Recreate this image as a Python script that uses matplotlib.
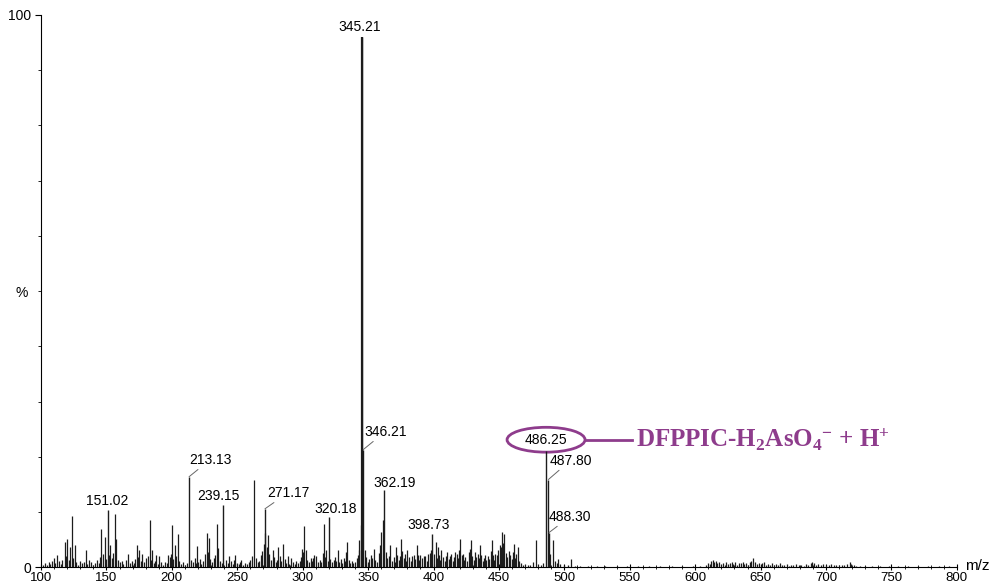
import matplotlib.pyplot as plt
from matplotlib.patches import Ellipse
from matplotlib.ticker import MultipleLocator

plt.rcParams['font.family'] = ['Liberation Sans', 'DejaVu Sans']
plt.rcParams['mathtext.fontset'] = 'custom'
plt.rcParams['mathtext.rm'] = 'Liberation Serif:bold'
plt.rcParams['mathtext.it'] = 'Liberation Serif:bold'
plt.rcParams['mathtext.bf'] = 'Liberation Serif:bold'

# labelled peaks (m/z, relative intensity %)
label_mz = [151.02, 213.13, 239.15, 271.17, 320.18, 345.21, 346.21, 362.19, 398.73, 486.25, 487.80, 488.30]
label_int = [10.3, 16.4, 11.2, 10.6, 9.2, 96.0, 21.3, 14.0, 6.0, 21.1, 15.9, 6.3]

# other visible peaks
major_peaks = [
    (110, 1.6), (112.5, 2.2), (118, 4.5), (120, 5.1), (122, 3.7), (123.7, 9.3), (125.7, 4.0),
    (134, 3.1), (137, 1.3), (146, 7.0), (148.7, 5.5), (153, 4.0), (156.3, 9.7), (157.5, 5.2),
    (166.5, 2.5), (173.3, 4.0), (175, 3.1), (177.5, 2.5), (183, 8.5), (185, 3.1), (188, 2.2),
    (190.5, 2.0), (197.3, 2.2), (200.3, 7.6), (202.3, 4.0), (204.4, 6.0), (219, 3.8),
    (221.5, 1.5), (226.6, 6.2), (228, 5.3), (234.2, 7.9), (235.5, 3.5), (244, 2.0),
    (248.6, 2.2), (253, 1.3), (262.9, 15.8), (271, 6.2), (273.5, 5.8), (277, 3.1),
    (281.3, 3.7), (285, 4.3), (288.5, 2.0), (291, 1.7), (299.6, 3.4), (301.1, 7.5),
    (302.5, 3.1), (309, 2.2), (310.5, 2.0), (316.4, 7.9), (318, 3.1), (326.6, 3.1),
    (333, 2.8), (334, 4.5), (343.3, 5.0), (344.5, 7.6), (347.5, 3.1), (354.4, 3.4),
    (360.2, 6.4), (361, 8.5), (367, 4.0), (371, 3.7), (375, 5.2), (376, 3.0), (380, 3.1),
    (385, 2.2), (387, 4.0), (390, 2.2), (392.5, 2.0), (396, 2.5), (401.6, 4.6),
    (403.5, 3.7), (406, 3.1), (410, 2.8), (413.5, 2.5), (416.5, 2.8), (420, 5.2),
    (422.5, 2.5), (428.3, 4.9), (431.5, 2.8), (435.4, 4.0), (439, 2.2), (444.8, 4.9),
    (447, 2.5), (452.4, 6.4), (454, 6.0), (457.5, 3.0), (461.6, 4.3), (464.5, 3.7),
    (478, 4.9), (491, 4.9), (495, 1.5), (505, 1.5),
]

# baseline noise, 100-250
noise_low = [
    (101.5, 0.4), (103, 0.7), (104.2, 0.5), (105.8, 1.0), (107, 0.6), (108.5, 1.2), (111, 0.8),
    (113.6, 1.1), (115, 0.6), (116.4, 1.4), (119.2, 2.0), (121, 1.3), (124.8, 1.6), (127, 0.9),
    (128.4, 0.5), (130, 1.2), (131.5, 0.7), (132.8, 0.9), (135.5, 0.6), (138.4, 1.0),
    (140, 0.5), (141.2, 0.8), (142.7, 1.3), (144, 0.7), (145.2, 1.8), (147.5, 2.4),
    (150, 1.5), (152.2, 2.2), (154.4, 1.7), (155.2, 2.6), (158.6, 1.4), (160, 0.9),
    (161.5, 1.1), (163, 0.6), (164.6, 1.3), (168, 0.8), (169.4, 1.2), (170.8, 0.7),
    (172, 1.5), (174.2, 1.9), (176.3, 1.1), (178.8, 0.9), (180, 1.6), (181.6, 2.0),
    (184.1, 1.4), (186.4, 0.8), (187.2, 1.1), (189.3, 0.6), (191.8, 0.9), (193, 0.5),
    (194.5, 1.0), (196, 0.7), (198.6, 1.8), (199.4, 2.4), (201.2, 1.5), (203.3, 2.0),
    (205.6, 1.1), (207, 0.6), (208.4, 0.9), (210, 0.5), (211.5, 0.8), (214.6, 1.3),
    (216, 0.9), (217.4, 1.6), (218.2, 0.7), (220.3, 1.0), (222.6, 0.6), (223.8, 1.2),
    (225.2, 2.4), (227.4, 2.8), (229.5, 1.5), (230.8, 0.9), (232, 1.7), (233.2, 2.3),
    (236.8, 1.2), (238, 0.8), (241.3, 1.4), (242.6, 0.7), (245.2, 1.1), (246.5, 0.6),
    (247.6, 1.3), (249.8, 0.8),
]

# baseline noise, 250-400
noise_mid = [
    (251.2, 0.6), (252.2, 0.9), (254.5, 0.5), (256, 0.8), (257.4, 0.6), (258.8, 1.0),
    (260, 1.3), (261.4, 2.0), (264.2, 1.6), (265.6, 0.9), (266.8, 1.2), (268, 2.2),
    (269.2, 3.0), (270.2, 4.2), (272.4, 3.6), (274.6, 2.4), (275.8, 1.3), (278.4, 1.8),
    (279.6, 1.0), (280.5, 1.4), (282.4, 2.0), (283.6, 1.2), (286.2, 1.5), (287.4, 0.8),
    (289.6, 0.6), (292.4, 0.9), (293.8, 0.6), (295, 1.1), (296.4, 0.7), (297.8, 1.2),
    (298.6, 1.9), (300.4, 2.8), (303.6, 1.4), (304.8, 0.9), (306, 1.6), (307.2, 1.1),
    (308.2, 1.7), (311.8, 0.9), (313, 1.4), (314.2, 1.0), (315.4, 2.6), (317.2, 1.8),
    (319, 1.2), (321, 1.5), (322.4, 0.9), (323.6, 1.3), (324.8, 1.9), (325.6, 1.2),
    (327.8, 1.0), (329, 1.5), (330.2, 0.8), (331.4, 1.7), (332.2, 1.1), (335.2, 1.3),
    (336.4, 0.8), (337.6, 1.2), (338.8, 0.7), (340, 1.0), (341.2, 1.6), (342.2, 2.3),
    (343.2, 3.2), (348.4, 1.8), (349.6, 1.0), (350.8, 1.5), (352, 2.2), (353.2, 1.6),
    (355.6, 1.4), (356.8, 0.9), (358, 2.6), (359.2, 4.0), (363.4, 2.8), (364.6, 1.6),
    (365.8, 2.1), (368.2, 1.2), (369.4, 1.8), (370.2, 1.0), (372.4, 2.3), (373.6, 1.4),
    (374.4, 2.0), (377.2, 1.6), (378.4, 2.4), (379.2, 1.1), (381.4, 1.9), (382.6, 1.2),
    (383.8, 2.0), (386.2, 1.5), (388.4, 2.2), (389.2, 1.3), (391.4, 1.7), (393.6, 2.0),
    (394.8, 1.2), (397.2, 2.6), (398, 3.2),
]

# baseline noise, 400-610
noise_high = [
    (400.4, 2.4), (402.6, 1.6), (404.4, 2.2), (405.2, 1.3), (407.4, 1.8), (408.6, 1.1),
    (409.4, 2.0), (411.6, 1.5), (412.6, 2.1), (414.6, 1.2), (415.6, 1.9), (417.6, 2.4),
    (418.8, 1.6), (419.4, 3.1), (421.4, 2.2), (423.6, 1.4), (424.4, 1.9), (425.6, 1.1),
    (426.8, 2.8), (427.6, 3.4), (429.4, 2.0), (430.6, 1.3), (432.6, 1.8), (433.8, 2.5),
    (434.6, 1.6), (436.4, 2.2), (437.6, 1.2), (438.4, 1.7), (440.2, 1.3), (441.4, 2.0),
    (442.4, 1.5), (443.6, 3.0), (445.6, 2.2), (446.4, 1.4), (448.2, 2.3), (449.4, 3.2),
    (450.6, 4.1), (451.4, 3.6), (453.2, 4.4), (455.2, 2.6), (456.4, 1.8), (458.6, 2.2),
    (459.6, 1.5), (460.4, 2.8), (462.6, 1.6), (463.4, 2.4), (465.6, 1.1), (466.8, 0.7),
    (468.4, 0.5), (470, 0.6), (472, 0.4), (474, 0.5), (476.2, 0.9), (480, 0.6), (482, 0.4),
    (484, 0.7), (489.4, 2.4), (492.6, 1.2), (494, 0.8), (497, 0.6), (500, 0.5),
    (502.6, 0.4), (508, 0.3), (512, 0.3), (518, 0.2), (525, 0.3), (531, 0.2), (540, 0.3),
    (548, 0.2), (556, 0.3), (565, 0.2), (573, 0.2), (582, 0.3), (590, 0.2), (598, 0.3),
    (604, 0.2),
]

# low cluster at high m/z
noise_tail = [
    (608.5, 0.4), (610, 0.8), (611.2, 0.6), (612.4, 1.1), (613.6, 1.4), (614.6, 1.0),
    (615.8, 1.2), (617, 0.7), (618.2, 0.9), (619.6, 0.6), (621, 0.8), (622.4, 0.5),
    (623.6, 0.9), (625, 0.6), (626.4, 0.8), (628, 1.0), (629.2, 0.6), (630.6, 0.9),
    (632, 0.5), (633.4, 0.8), (635, 0.7), (636.2, 1.0), (637.6, 0.6), (639, 0.8),
    (640.4, 0.5), (641.8, 0.9), (643, 1.1), (644.4, 1.7), (645.6, 0.9), (647, 0.6),
    (648.4, 0.8), (650, 0.5), (651.4, 0.7), (652.8, 0.9), (654.2, 0.5), (655.6, 0.6),
    (657, 0.4), (658.6, 0.7), (660, 0.5), (661.6, 0.6), (663.2, 0.4), (665, 0.7),
    (666.6, 0.5), (668.2, 0.4), (670, 0.6), (671.8, 0.3), (673.4, 0.5), (675, 0.4),
    (677, 0.6), (679, 0.4), (681, 0.5), (683, 0.3), (685, 0.6), (686.6, 0.5),
    (688.2, 0.8), (689.6, 1.0), (691, 0.7), (692.6, 0.5), (694.2, 0.6), (696, 0.4),
    (698, 0.6), (700, 0.5), (702, 0.4), (704, 0.6), (706, 0.5), (708, 0.4), (710, 0.5),
    (712, 0.4), (714, 0.5), (716, 0.6), (718, 1.0), (719.4, 0.6), (721, 0.4), (723, 0.3),
    (726, 0.3), (730, 0.2), (735, 0.2), (741, 0.2), (748, 0.2), (755, 0.2), (763, 0.2),
    (770, 0.2), (778, 0.2), (786, 0.2), (794, 0.2),
]

# text offset (px) from the peak top, and whether a leader line is drawn
label_dx = [-1, 21, -5, 23, 7, -2, 22, 11, -3, 0, 22, 21]
label_dy = [2, 10, 2, 9, 1, 3, 11, 0, 2, 0, 12, 9]
label_leader = [False, True, False, True, False, False, True, False, False, False, True, True]

line_col = '#1c1c1c'
purple = '#8e3c8c'

fig = plt.figure(figsize=(9.89, 5.87), dpi=100)
ax = fig.add_axes([0.0415, 0.0335, 0.926, 0.941])

for group in (noise_low, noise_mid, noise_high, noise_tail, major_peaks):
    xs = [p[0] for p in group]
    ys = [p[1] for p in group]
    ax.vlines(xs, 0, ys, colors=line_col, lw=0.9)

ax.vlines(label_mz, 0, label_int, colors=line_col, lw=1.0)
ax.vlines([345.21], 0, [96.0], colors=line_col, lw=1.6)

for mz, h, dx, dy, lead in zip(label_mz, label_int, label_dx, label_dy, label_leader):
    if mz == 486.25:
        continue
    ax.annotate(f'{mz:.2f}', xy=(mz, h), xytext=(dx * 0.72, dy * 0.72),
                textcoords='offset points', ha='center', va='bottom', fontsize=10,
                arrowprops=dict(arrowstyle='-', color='#666666', lw=0.7,
                                shrinkA=0, shrinkB=0) if lead else None)

# circled precursor ion and its assignment
ax.text(486.25, 23.1, '486.25', ha='center', va='center', fontsize=10)
ax.add_patch(Ellipse((486.0, 23.1), 59.6, 4.5, fill=False, ec=purple, lw=2.0))
ax.plot([515.8, 552.0], [23.1, 23.1], color=purple, lw=2.0)
ax.text(555.0, 21.8, r'DFPPIC-H$_2$AsO$_4{}^{-}$ + H$^{+}$', color=purple,
        fontsize=18, fontweight='bold', family='Liberation Serif',
        ha='left', va='baseline')

ax.set_xlim(100, 800)
ax.set_ylim(0, 100)
ax.spines['top'].set_visible(False)
ax.spines['right'].set_visible(False)
ax.set_xticks(range(100, 801, 50))
ax.xaxis.set_minor_locator(MultipleLocator(10))
ax.set_yticks([0, 100])
ax.yaxis.set_minor_locator(MultipleLocator(10))
ax.tick_params(axis='x', which='major', direction='inout', length=5, labelsize=9.5, pad=0.5)
ax.tick_params(axis='x', which='minor', direction='inout', length=3)
ax.tick_params(axis='y', which='major', direction='out', length=4, labelsize=10, pad=3)
ax.tick_params(axis='y', which='minor', direction='out', length=2)

fig.text(22 / 989, 1 - 293 / 587, '%', ha='center', va='center', fontsize=10)
fig.text(965 / 989, 1 - 566 / 587, 'm/z', ha='left', va='center', fontsize=11)

fig.savefig('out.png', dpi=100)
